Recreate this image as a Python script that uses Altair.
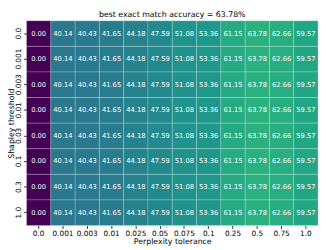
import altair as alt
import pandas as pd

ppl_tolerance = ["0.0", "0.001", "0.003", "0.01", "0.025", "0.05", "0.075", "0.1", "0.25", "0.5", "0.75", "1.0"]
shapley_threshold = ["0.0", "0.001", "0.003", "0.01", "0.03", "0.1", "0.3", "1.0"]

acc_rows = [
    [0.00, 40.14, 40.43, 41.65, 44.18, 47.59, 51.08, 53.36, 61.15, 63.78, 62.66, 59.57],
    [0.00, 40.14, 40.43, 41.65, 44.18, 47.59, 51.08, 53.36, 61.15, 63.78, 62.66, 59.57],
    [0.00, 40.14, 40.43, 41.65, 44.18, 47.59, 51.08, 53.36, 61.15, 63.78, 62.66, 59.57],
    [0.00, 40.14, 40.43, 41.65, 44.18, 47.59, 51.08, 53.36, 61.15, 63.78, 62.66, 59.57],
    [0.00, 40.14, 40.43, 41.65, 44.18, 47.59, 51.08, 53.36, 61.15, 63.78, 62.66, 59.57],
    [0.00, 40.14, 40.43, 41.65, 44.18, 47.59, 51.08, 53.36, 61.15, 63.78, 62.66, 59.57],
    [0.00, 40.14, 40.43, 41.65, 44.18, 47.59, 51.08, 53.36, 61.15, 63.78, 62.66, 59.57],
    [0.00, 40.14, 40.43, 41.65, 44.18, 47.59, 51.08, 53.36, 61.15, 63.78, 62.66, 59.57],
]

records = []
for s, row in zip(shapley_threshold, acc_rows):
    for p, v in zip(ppl_tolerance, row):
        records.append({"shap": s, "ppl": p, "acc": v})
df = pd.DataFrame(records)

FONT = "DejaVu Sans"

x_enc = alt.X("ppl:N", sort=ppl_tolerance, title="Perplexity tolerance",
              scale=alt.Scale(paddingInner=0, paddingOuter=0),
              axis=alt.Axis(labelAngle=0, tickSize=3, labelPadding=1, titlePadding=1,
                            domain=False, tickColor="#333333", labelFont=FONT, titleFont=FONT,
                            labelFontSize=7.5, titleFontSize=8, titleFontWeight="normal",
                            labelColor="black", titleColor="black"))
y_enc = alt.Y("shap:N", sort=shapley_threshold, title="Shapley threshold",
              scale=alt.Scale(paddingInner=0, paddingOuter=0),
              axis=alt.Axis(labelAngle=270, labelAlign="center", labelBaseline="bottom",
                            tickSize=3, labelPadding=1, titleX=-15, titleBaseline="middle",
                            titleAngle=270,
                            domain=False, tickColor="#333333", labelFont=FONT, titleFont=FONT,
                            labelFontSize=7.5, titleFontSize=8, titleFontWeight="normal",
                            labelColor="black", titleColor="black"))

base = alt.Chart(df).encode(x=x_enc, y=y_enc)

rects = base.mark_rect(stroke="white", strokeWidth=0.6, strokeOpacity=0.35).encode(
    color=alt.Color("acc:Q", scale=alt.Scale(scheme="viridis", domain=[0, 100]), legend=None)
)

texts = base.mark_text(color="white", fontSize=6.9, font=FONT).encode(
    text=alt.Text("acc:Q", format=".2f")
)

chart = (rects + texts).properties(
    width=299,
    height=210,
    background="white",
    title=alt.TitleParams("best exact match accuracy = 63.78%", fontSize=8, font=FONT,
                          fontWeight="normal", anchor="middle", offset=2, color="black"),
    padding={"left": 19, "top": 10, "right": 1, "bottom": 22},
    autosize=alt.AutoSizeParams(type="none"),
).configure_view(stroke=None)

chart.save("out.html", embed_options={"renderer": "svg", "actions": False})
